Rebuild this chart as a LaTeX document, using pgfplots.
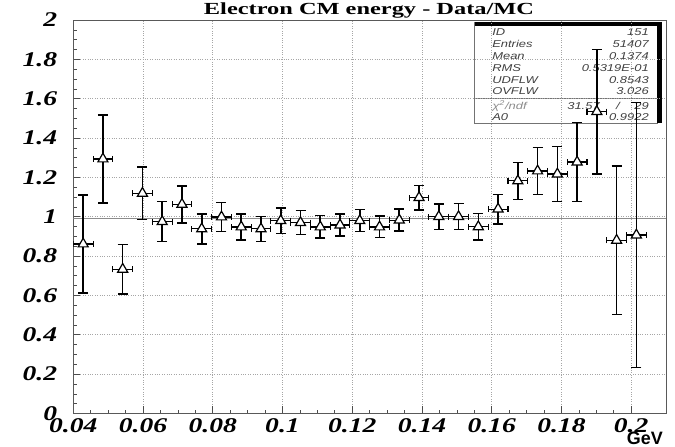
\documentclass[border=0pt]{standalone}
\usepackage{pgfplots}
\pgfplotsset{compat=1.18}
\usepackage{pgfplotstable}
\usepackage{fontspec}
\setmainfont{Liberation Serif}
\newfontfamily\helv{Liberation Sans}

\pgfplotstableread{
x y ey
0.042833 0.8615 0.250
0.048500 1.2935 0.224
0.054167 0.7330 0.125
0.059833 1.1190 0.133
0.065500 0.9750 0.102
0.071167 1.0630 0.094
0.076833 0.9380 0.076
0.082500 0.9987 0.074
0.088167 0.9480 0.066
0.093833 0.9380 0.063
0.099500 0.9800 0.064
0.105167 0.9700 0.061
0.110833 0.9480 0.057
0.116500 0.9580 0.056
0.122167 0.9800 0.056
0.127833 0.9480 0.055
0.133500 0.9830 0.056
0.139167 1.0970 0.062
0.144833 1.0003 0.064
0.150500 1.0003 0.066
0.156167 0.9490 0.068
0.161833 1.0390 0.075
0.167500 1.1820 0.094
0.173167 1.2325 0.118
0.178833 1.2170 0.139
0.184500 1.2780 0.200
0.190167 1.5340 0.317
0.195833 0.8800 0.378
0.201500 0.9070 0.674
}\datatable

\begin{document}
\begin{tikzpicture}[x=1bp,y=1bp]
\useasboundingbox (0,0) rectangle (675,447);
% stats box (drawn first, data over it)
\draw[black!55, line width=0.6bp] (474,323.7) rectangle (657,425);
\draw[black!55, line width=0.6bp] (474,348.3) -- (657,348.3);
\draw[black, line width=3.5bp] (475,423.2) -- (661.7,423.2);
\draw[black, line width=5bp] (659,425) -- (659,323.7);
\begin{scope}[every node/.style={font=\helv\itshape\fontsize{10}{10}\selectfont, text=black!75, inner sep=0pt, xscale=1.3}]
\node[anchor=west] at (492,414.5) {ID};
\node[anchor=west] at (492,402.7) {Entries};
\node[anchor=west] at (492,390.9) {Mean};
\node[anchor=west] at (492,379.1) {RMS};
\node[anchor=west] at (492,367.3) {UDFLW};
\node[anchor=west] at (492,355.5) {OVFLW};
\node[anchor=west, text=black!45] at (492,341) {χ\textsuperscript{2}/ndf};
\node[anchor=west] at (492,329.5) {A0};
\node[anchor=east] at (649,414.5) {151};
\node[anchor=east] at (649,402.7) {51407};
\node[anchor=east] at (649,390.9) {0.1374};
\node[anchor=east] at (649,379.1) {0.5319E-01};
\node[anchor=east] at (649,367.3) {0.8543};
\node[anchor=east] at (649,355.5) {3.026};
\node[anchor=east] at (600,341) {31.57};
\node at (618,341) {/};
\node[anchor=east] at (649,341) {29};
\node[anchor=east] at (649,329.5) {0.9922};
\end{scope}
\begin{axis}[
  at={(73.3bp,33.5bp)}, anchor=south west,
  scale only axis, width=592.7bp, height=393.5bp,
  xmin=0.04, xmax=0.21, ymin=0, ymax=2,
  axis line style={black!65, line width=0.7bp},
  xtick={0.04,0.06,0.08,0.1,0.12,0.14,0.16,0.18,0.2},
  xticklabels={0.04,0.06,0.08,0.1,0.12,0.14,0.16,0.18,0.2},
  ytick={0,0.2,0.4,0.6,0.8,1,1.2,1.4,1.6,1.8,2},
  yticklabels={0,0.2,0.4,0.6,0.8,1,1.2,1.4,1.6,1.8,2},
  minor x tick num=3, minor y tick num=3,
  tick align=inside, tickpos=left,
  major tick length=7bp, minor tick length=3.5bp,
  tick style={black!70, line width=0.6bp},
  grid=major, major grid style={black!35, dotted, line width=0.6bp},
  ticklabel style={font=\fontsize{21}{21}\selectfont\bfseries\itshape, inner sep=0pt, xscale=1.32},
  xticklabel style={anchor=north, yshift=-4.5bp},
  yticklabel style={anchor=east, xshift=-12bp},
]
\addplot[black!45, line width=0.7bp] coordinates {(0.04,0.9922) (0.21,0.9922)};
\addplot[only marks, mark=none,
  error bars/.cd, y dir=both, y explicit,
  error bar style={line width=1.6bp, black},
  error mark options={rotate=90, line width=1.4bp, mark size=5bp, black}]
  table[x=x, y=y, y error=ey] {\datatable};
\addplot[only marks, mark=none,
  error bars/.cd, x dir=both, x fixed=0.0028333,
  error bar style={line width=1.1bp, black},
  error mark options={rotate=90, line width=1.1bp, mark size=3bp, black}]
  table[x=x, y=y] {\datatable};
\addplot[only marks, mark=triangle*, mark size=5.8bp,
  mark options={fill=white, draw=black, line width=1.2bp}]
  table[x=x, y=y] {\datatable};
\end{axis}
\node[anchor=base, font=\fontsize{17}{17}\selectfont\bfseries, xscale=1.44, inner sep=0pt] at (369,432.3) {Electron CM energy - Data/MC};
\node[anchor=base east, font=\helv\bfseries\fontsize{18}{18}\selectfont, inner sep=0pt] at (663,2.5) {GeV};
\end{tikzpicture}
\end{document}
